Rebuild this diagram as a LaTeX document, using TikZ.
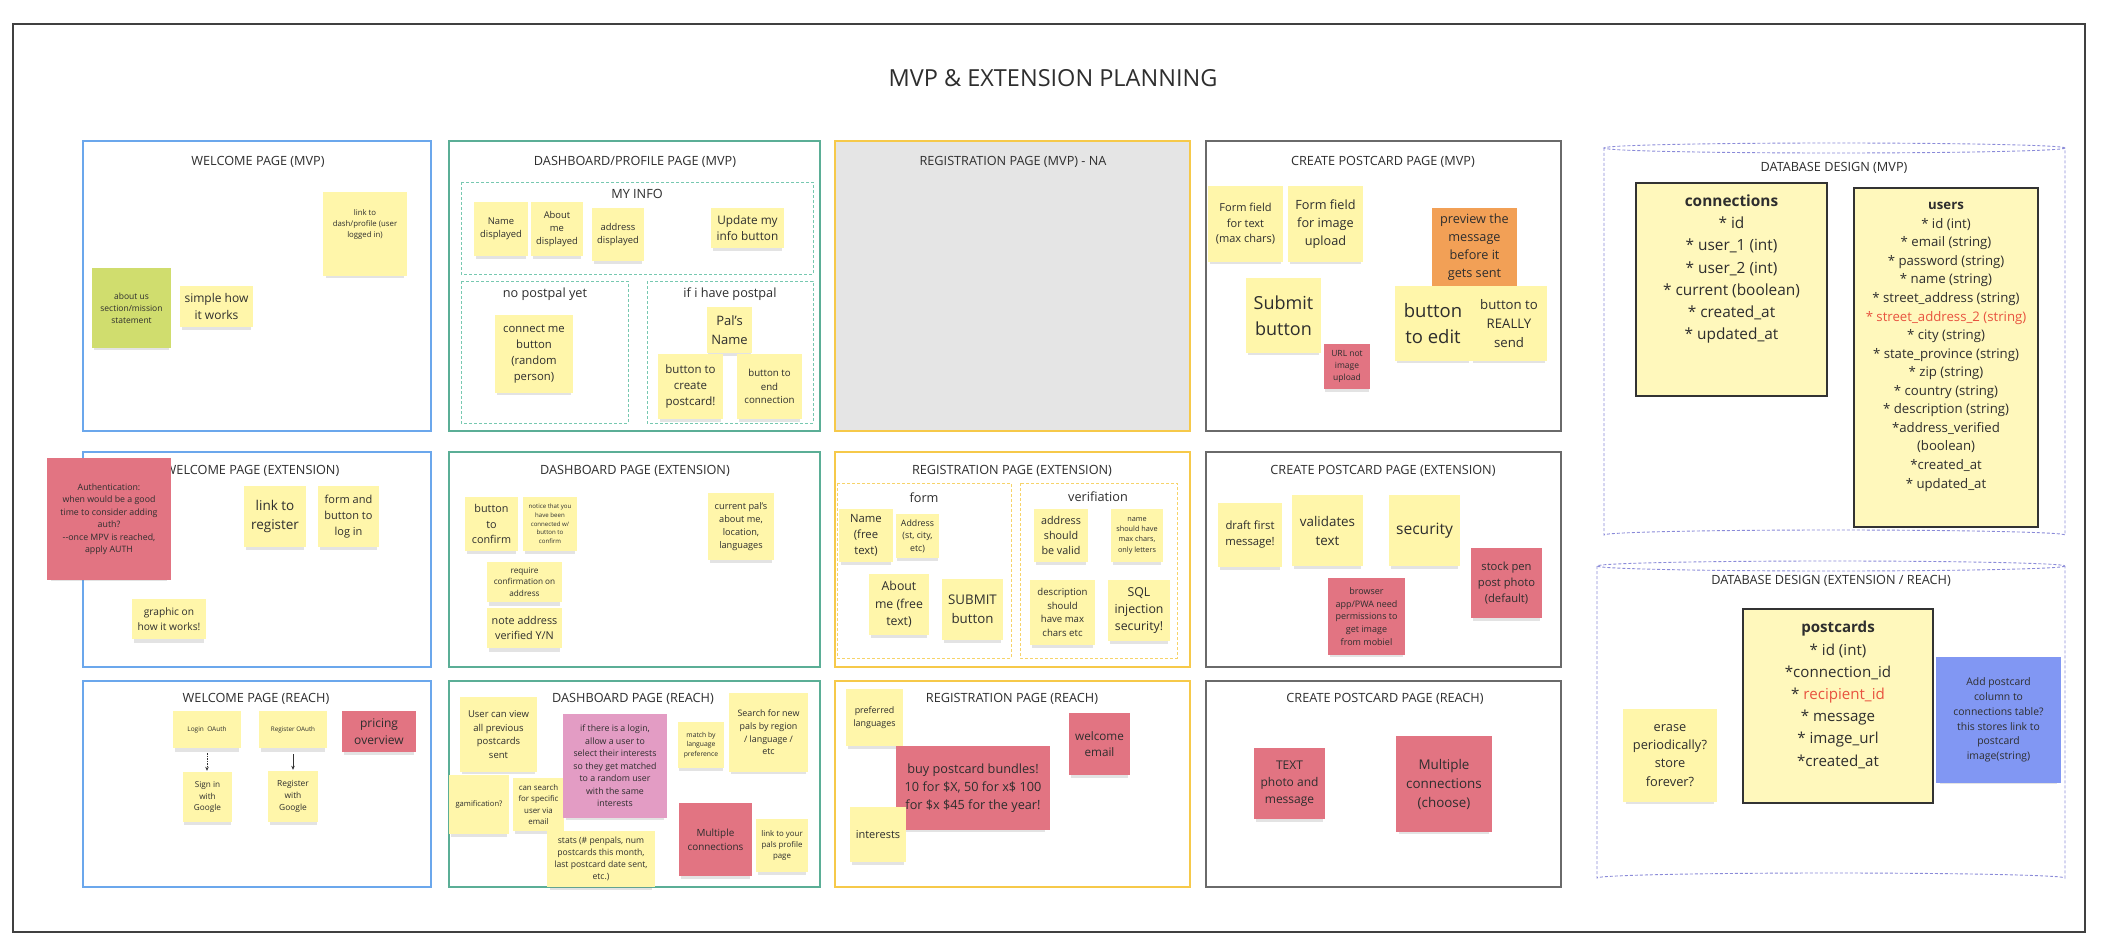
\documentclass[tikz,border=0pt]{standalone}
\usepackage{fontspec}
\setmainfont{Open Sans}
\usetikzlibrary{shadows,arrows.meta}
\definecolor{sy}{HTML}{FFF6AA}
\definecolor{sgreen}{HTML}{D0DD6E}
\definecolor{sred}{HTML}{E27482}
\definecolor{sorange}{HTML}{F2A056}
\definecolor{spink}{HTML}{E39CC4}
\definecolor{sblue}{HTML}{8197F3}
\definecolor{tabyel}{HTML}{FFF8BC}
\definecolor{cred}{HTML}{E8533F}
\definecolor{cblue}{HTML}{6BA7EC}
\definecolor{cteal}{HTML}{5BAE96}
\definecolor{cteall}{HTML}{76C8B0}
\definecolor{cyel}{HTML}{F6C94A}
\definecolor{cyell}{HTML}{F6D36A}
\definecolor{cgray}{HTML}{6A6A6A}
\definecolor{cdb}{HTML}{8B8BD9}
\definecolor{ink}{HTML}{2E2E2E}
\newcommand\stk[8]{%
  \pgfmathsetmacro\stkcx{(#2+#4)/2}%
  \pgfmathsetmacro\stkcy{(#3+#5)/2}%
  \pgfmathsetmacro\stkw{#4-#2}%
  \pgfmathsetmacro\stkh{#5-#3}%
  \pgfmathsetmacro\stkls{#7*1.42}%
  \node[sticky, fill=#6, minimum width=\stkw pt, minimum height=\stkh pt,
        font={\fontsize{#7pt}{\stkls pt}\selectfont}] (#1) at (\stkcx,\stkcy) {#8};%
}
\begin{document}
\begin{tikzpicture}[x=1pt,y=-1pt,
  sticky/.style={rectangle, inner sep=1pt, align=center, text=ink,
    drop shadow={opacity=0.22, shadow scale=0.94, shadow xshift=0pt, shadow yshift=-5pt}},
  sec/.style={line width=1.4pt},
  ttl/.style={font={\fontsize{12.7pt}{15pt}\selectfont}, text=ink, inner sep=0pt},
  sub/.style={font={\fontsize{12.7pt}{15pt}\selectfont}, text=ink, inner sep=0pt},
  innerbox/.style={line width=0.9pt, dash pattern=on 3pt off 2pt},
  dbline/.style={draw=cdb, line width=0.9pt, dash pattern=on 3pt off 2pt},
  dbtab/.style={rectangle, draw=black!80, line width=1.8pt, fill=tabyel, inner sep=0pt},
  tabtxt/.style={anchor=north, align=center, inner sep=0pt, text=ink},
  arr/.style={-{Stealth[length=4pt,width=3.5pt]}, line width=0.6pt, black!80}
]
\useasboundingbox (0,0) rectangle (2112,952);
\fill[white] (0,0) rectangle (2112,952);
\draw[black!75, line width=1.2pt] (13,24) rectangle (2085,932);

\node[font={\fontsize{23.5pt}{28pt}\selectfont}, text=ink, inner sep=0pt] (maintitle) at (1053,78) {MVP \& EXTENSION PLANNING};

% ---------- section frames ----------
\draw[sec, draw=cblue] (83,141) rectangle (431,431);
\draw[sec, draw=cteal] (449,141) rectangle (820,431);
\draw[sec, draw=cyel, fill=black!10] (835,141) rectangle (1190,431);
\draw[sec, draw=cgray] (1206,141) rectangle (1561,431);
\draw[sec, draw=cblue] (83,452) rectangle (431,667);
\draw[sec, draw=cteal] (449,452) rectangle (820,667);
\draw[sec, draw=cyel] (835,452) rectangle (1190,667);
\draw[sec, draw=cgray] (1206,452) rectangle (1561,667);
\draw[sec, draw=cblue] (83,681) rectangle (431,887);
\draw[sec, draw=cteal] (449,681) rectangle (820,887);
\draw[sec, draw=cyel] (835,681) rectangle (1190,887);
\draw[sec, draw=cgray] (1206,681) rectangle (1561,887);

% inner dashed boxes
\draw[innerbox, draw=cteall] (461,182) rectangle (813,274);
\draw[innerbox, draw=cteall] (461,281) rectangle (628,423);
\draw[innerbox, draw=cteall] (647,281) rectangle (813,423);
\draw[innerbox, draw=cyell] (837,483) rectangle (1011,658);
\draw[innerbox, draw=cyell] (1020,483) rectangle (1177,658);

% database cylinders
\draw[dbline] (1834.5,148) ellipse [x radius=230.5, y radius=5];
\draw[dbline] (1604,148) -- (1604,535) arc [start angle=180, end angle=360, x radius=230.5, y radius=5] -- (2065,148);
\draw[dbline] (1831,566) ellipse [x radius=234, y radius=5];
\draw[dbline] (1597,566) -- (1597,878) arc [start angle=180, end angle=360, x radius=234, y radius=5] -- (2065,566);

% ---------- titles ----------
\node[ttl] (t11) at (258,162) {WELCOME PAGE (MVP)};
\node[ttl] (t12) at (635,162) {DASHBOARD/PROFILE PAGE (MVP)};
\node[ttl] (t13) at (1013,162) {REGISTRATION PAGE (MVP) - NA};
\node[ttl] (t14) at (1383,162) {CREATE POSTCARD PAGE (MVP)};
\node[ttl] (t21) at (252,471) {WELCOME PAGE (EXTENSION)};
\node[ttl] (t22) at (635,471) {DASHBOARD PAGE (EXTENSION)};
\node[ttl] (t23) at (1012,471) {REGISTRATION PAGE (EXTENSION)};
\node[ttl] (t24) at (1383,471) {CREATE POSTCARD PAGE (EXTENSION)};
\node[ttl] (t31) at (256,699) {WELCOME PAGE (REACH)};
\node[ttl] (t32) at (633,699) {DASHBOARD PAGE (REACH)};
\node[ttl] (t33) at (1012,699) {REGISTRATION PAGE (REACH)};
\node[ttl] (t34) at (1385,699) {CREATE POSTCARD PAGE (REACH)};
\node[ttl] (tdb1) at (1834,168) {DATABASE DESIGN (MVP)};
\node[ttl] (tdb2) at (1831,581) {DATABASE DESIGN (EXTENSION / REACH)};
\node[sub] (s1) at (637,194) {MY INFO};
\node[sub] (s2) at (545,294) {no postpal yet};
\node[sub] (s3) at (730,294) {if i have postpal};
\node[sub] (s4) at (924,498) {form};
\node[sub] (s5) at (1098,497) {verifiation};

% ---------- welcome MVP ----------
\stk{wm1}{323}{192}{407}{276}{sy}{7.8}{link to\\dash/profile (user\\logged in)\\[10pt]}
\stk{wm2}{92}{268}{171}{348}{sgreen}{8.5}{about us\\section/mission\\statement}
\stk{wm3}{180}{286}{253}{327}{sy}{12}{simple how\\it works}

% ---------- dashboard MVP ----------
\stk{dm1}{474}{202}{528}{256}{sy}{9.4}{Name\\displayed}
\stk{dm2}{531}{202}{583}{256}{sy}{9.4}{About\\me\\displayed}
\stk{dm3}{592}{208}{644}{261}{sy}{9.4}{address\\displayed}
\stk{dm4}{711}{208}{784}{248}{sy}{11.8}{Update my\\info button}
\stk{dm5}{495}{315}{573}{393}{sy}{11.3}{connect me\\button\\(random\\person)}
\stk{dm6}{707}{307}{752}{353}{sy}{13}{Pal's\\Name}
\stk{dm7}{658}{354}{723}{419}{sy}{11.5}{button to\\create\\postcard!}
\stk{dm8}{737}{354}{802}{419}{sy}{9.7}{button to\\end\\connection}

% ---------- create postcard MVP ----------
\stk{cm1}{1208}{186}{1283}{262}{sy}{11}{Form field\\for text\\(max chars)}
\stk{cm2}{1288}{186}{1363}{262}{sy}{12.7}{Form field\\for image\\upload}
\stk{cm3}{1432}{208}{1517}{286}{sorange}{12.7}{preview the\\message\\before it\\gets sent}
\stk{cm4}{1246}{278}{1321}{353}{sy}{18}{Submit\\button}
\stk{cm5}{1324}{344}{1370}{389}{sred}{8.5}{URL not\\image\\upload}
\stk{cm6}{1395}{286}{1471}{361}{sy}{18.5}{button\\to edit}
\stk{cm7}{1471}{286}{1547}{361}{sy}{13.2}{button to\\REALLY\\send}

% ---------- database MVP ----------
\node[dbtab, minimum width=191pt, minimum height=213pt] (conn) at (1731.5,289.5) {};
\node[tabtxt, font={\fontsize{15.4pt}{22.3pt}\selectfont}] (connT) at (1731.5,194.2)
 {\vphantom{A}\textbf{connections}\\{}* id\\{}* user\_1 (int)\\{}* user\_2 (int)\\{}* current (boolean)\\{}* created\_at\\{}* updated\_at};
\node[dbtab, minimum width=184pt, minimum height=339pt] (users) at (1946,357.5) {};
\node[tabtxt, font={\fontsize{13.2pt}{18.55pt}\selectfont}] (usersT) at (1946,200.1)
 {\vphantom{A}\textbf{users}\\{}* id (int)\\{}* email (string)\\{}* password (string)\\{}* name (string)\\{}* street\_address (string)\\\textcolor{cred}{* street\_address\_2 (string)}\\{}* city (string)\\{}* state\_province (string)\\{}* zip (string)\\{}* country (string)\\{}* description (string)\\{}*address\_verified\\(boolean)\\{}*created\_at\\{}* updated\_at};

% ---------- welcome extension ----------
\stk{we2}{244}{486}{306}{547}{sy}{13.5}{link to\\register}
\stk{we3}{318}{486}{379}{547}{sy}{11}{form and\\button to\\log in}
\stk{we4}{132}{599}{206}{639}{sy}{10.2}{graphic on\\how it works!}
\stk{we1}{47}{458}{171}{580}{sred}{8.8}{Authentication:\\when would be a good\\time to consider adding\\auth?\\-{}-once MPV is reached,\\apply AUTH}

% ---------- dashboard extension ----------
\stk{de1}{465}{497}{518}{551}{sy}{10.8}{button\\to\\confirm}
\stk{de2}{523}{497}{577}{551}{sy}{6.1}{notice that you\\have been\\connected w/\\button to\\confirm}
\stk{de3}{487}{562}{562}{602}{sy}{8.2}{require\\confirmation on\\address}
\stk{de4}{487}{608}{562}{648}{sy}{10.8}{note address\\verified Y/N}
\stk{de5}{708}{493}{774}{560}{sy}{9.2}{current pal's\\about me,\\location,\\languages}

% ---------- registration extension ----------
\stk{re1}{839}{509}{893}{562}{sy}{11.3}{Name\\(free\\text)}
\stk{re2}{896}{514}{939}{558}{sy}{8.8}{Address\\(st, city,\\etc)}
\stk{re3}{869}{574}{929}{635}{sy}{12.3}{About\\me (free\\text)}
\stk{re4}{942}{579}{1003}{640}{sy}{13.3}{SUBMIT\\button}
\stk{re5}{1034}{509}{1088}{562}{sy}{10.8}{address\\should\\be valid}
\stk{re6}{1111}{509}{1163}{562}{sy}{7.3}{name\\should have\\max chars,\\only letters}
\stk{re7}{1030}{580}{1095}{645}{sy}{9.6}{description\\should\\have max\\chars etc}
\stk{re8}{1108}{580}{1170}{641}{sy}{12.3}{SQL\\injection\\security!}

% ---------- create postcard extension ----------
\stk{ce1}{1218}{503}{1282}{567}{sy}{11.3}{draft first\\message!}
\stk{ce2}{1292}{495}{1363}{566}{sy}{13.4}{validates\\text}
\stk{ce3}{1389}{495}{1460}{566}{sy}{15.6}{security}
\stk{ce4}{1328}{578}{1405}{655}{sred}{9}{browser\\app/PWA need\\permissions to\\get image\\from mobiel}
\stk{ce5}{1471}{548}{1542}{618}{sred}{11.2}{stock pen\\post photo\\(default)}

% ---------- database extension ----------
\stk{dx1}{1623}{709}{1717}{802}{sy}{12.8}{erase\\periodically?\\store\\forever?}
\node[dbtab, minimum width=190pt, minimum height=194pt] (pc) at (1838,706) {};
\node[tabtxt, font={\fontsize{15.1pt}{22.2pt}\selectfont}] (pcT) at (1838,621.3)
 {\vphantom{A}\textbf{postcards}\\{}* id (int)\\{}*connection\_id\\{}* \textcolor{cred}{recipient\_id}\\{}* message\\{}* image\_url\\{}*created\_at};
\stk{dx2}{1936}{657}{2061}{783}{sblue}{10.4}{Add postcard\\column to\\connections table?\\this stores link to\\postcard\\image(string)}

% ---------- welcome reach ----------
\stk{wr1}{173}{711}{241}{748}{sy}{6.5}{Login\ \ OAuth}
\stk{wr2}{259}{711}{327}{748}{sy}{6.3}{Register OAuth}
\stk{wr3}{183}{772}{232}{822}{sy}{8.2}{Sign in\\with\\Google}
\stk{wr4}{268}{771}{318}{822}{sy}{8.4}{Register\\with\\Google}
\stk{wr5}{342}{711}{416}{752}{sred}{12}{pricing\\overview}
\draw[arr, dash pattern=on 1.5pt off 1pt, shorten <=5pt, shorten >=1pt] (wr1.south) -- (wr1.south |- wr3.north);
\draw[arr, shorten <=6pt, shorten >=1pt] (wr2.south) -- (wr2.south |- wr4.north);

% ---------- dashboard reach ----------
\stk{dr1}{460}{697}{537}{772}{sy}{9.5}{User can view\\all previous\\postcards\\sent}
\stk{dr2}{449}{775}{509}{834}{sy}{7.6}{gamification?}
\stk{dr3}{513}{778}{564}{831}{sy}{7.9}{can search\\for specific\\user via\\email}
\stk{dr4}{563}{714}{667}{818}{spink}{8.8}{if there is a login,\\allow a user to\\select their interests\\so they get matched\\to a random user\\with the same\\interests}
\stk{dr5}{547}{831}{655}{887}{sy}{8.6}{stats (\# penpals, num\\postcards this month,\\last postcard date sent,\\etc.)}
\stk{dr6}{678}{722}{724}{768}{sy}{6.8}{match by\\language\\preference}
\stk{dr7}{729}{693}{808}{772}{sy}{8.9}{Search for new\\pals by region\\/ language /\\etc}
\stk{dr8}{679}{803}{752}{876}{sred}{9.9}{Multiple\\connections}
\stk{dr9}{756}{819}{808}{872}{sy}{7.9}{link to your\\pals profile\\page}

% ---------- registration reach ----------
\stk{rr1}{846}{689}{903}{746}{sy}{8.9}{preferred\\languages}
\stk{rr2}{896}{746}{1050}{830}{sred}{12.7}{buy postcard bundles!\\10 for \$X, 50 for x\$ 100\\for \$x \$45 for the year!}
\stk{rr3}{1069}{713}{1130}{775}{sred}{11.7}{welcome\\email}
\stk{rr4}{850}{807}{906}{862}{sy}{11}{interests}

% ---------- create postcard reach ----------
\stk{cr1}{1254}{748}{1325}{819}{sred}{12}{TEXT\\photo and\\message}
\stk{cr2}{1396}{736}{1492}{832}{sred}{13.4}{Multiple\\connections\\(choose)}
\end{tikzpicture}
\end{document}
